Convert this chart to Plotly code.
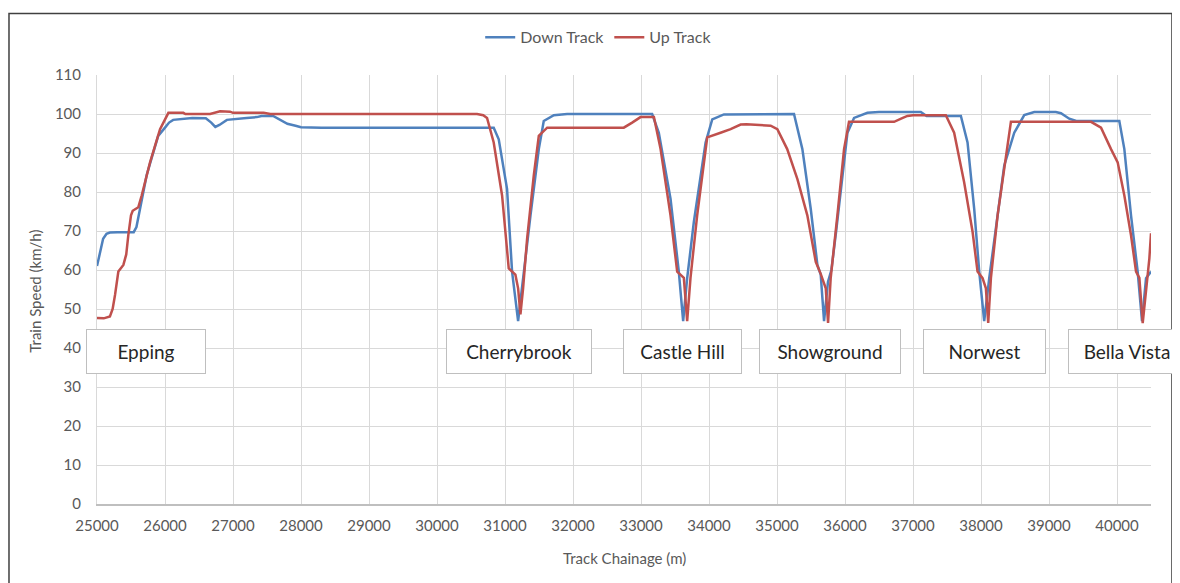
import plotly.graph_objects as go

# ---- data ----
down_x = [25000, 25030, 25060, 25090, 25140, 25190, 25300, 25540, 25580, 25630, 25680, 25730, 25800, 25900,
          26000, 26060, 26120, 26270, 26400, 26600, 26680, 26740, 26800, 26910, 27050, 27200, 27350, 27420,
          27590, 27700, 27800, 27920, 28000, 28300, 30834, 30908, 31030, 31104, 31153, 31193, 31227, 31276,
          31375, 31497, 31570, 31718, 31914, 33164, 33262, 33434, 33556, 33620, 33679, 33777, 33950, 34048,
          34219, 35250, 35373, 35496, 35594, 35643, 35692, 35750, 35800, 35870, 35937, 36036, 36133, 36330,
          36500, 37115, 37200, 37704, 37802, 37900, 37974, 38047, 38121, 38219, 38342, 38489, 38636, 38783,
          39100, 39176, 39298, 39400, 40034, 40108, 40206, 40304, 40368, 40427, 40500]
down_v = [61, 63.5, 66, 68, 69.3, 69.6, 69.7, 69.7, 71, 75.6, 80, 84.3, 88.5, 94.4,
          96.5, 97.8, 98.5, 98.8, 99, 98.9, 97.8, 96.7, 97.2, 98.5, 98.8, 99, 99.2, 99.5,
          99.5, 98.5, 97.5, 97, 96.6, 96.5, 96.5, 93.5, 80.8, 59.6, 52.8, 46.9, 52, 59.6,
          74, 91, 98.2, 99.7, 100, 100, 95.2, 78.3, 59.6, 46.9, 57.9, 72.3, 92.7, 98.6,
          99.9, 100, 91, 75.7, 61.3, 58.8, 46.9, 57, 60, 70, 80, 95.2, 99, 100.3,
          100.5, 100.5, 99.5, 99.5, 92.7, 75.7, 59.6, 46.9, 57.9, 70.6, 86.8, 95.2, 99.7, 100.5,
          100.5, 100.2, 98.8, 98.2, 98.2, 91, 74, 59.6, 46.9, 57.9, 59.6]

up_x = [25000, 25100, 25190, 25230, 25265, 25314, 25388, 25430, 25461, 25500, 25525, 25608, 25657, 25780,
        25927, 26000, 26050, 26270, 26300, 26663, 26750, 26810, 26957, 27000, 27450, 27550, 30589, 30680,
        30736, 30834, 30957, 31055, 31153, 31193, 31227, 31266, 31325, 31423, 31497, 31620, 32747, 32800,
        32870, 32993, 33190, 33288, 33434, 33532, 33630, 33679, 33728, 33826, 33974, 34170, 34318, 34465,
        34550, 34907, 35005, 35150, 35300, 35446, 35570, 35643, 35717, 35751, 35790, 35888, 35986, 36059,
        36722, 36850, 36918, 37000, 37483, 37605, 37752, 37876, 37949, 38023, 38072, 38106, 38146, 38244,
        38391, 38440, 39618, 39765, 39912, 40010, 40108, 40206, 40280, 40329, 40378, 40427, 40476, 40500]
up_v = [47.7, 47.6, 48.1, 50, 53.6, 59.6, 61.3, 64, 69, 74, 75.2, 76.1, 79.1, 87.6,
        96.1, 98.5, 100.3, 100.3, 100, 100, 100.5, 100.7, 100.6, 100.3, 100.3, 100, 100, 99.7,
        99, 92.7, 79.1, 60.4, 58.8, 55.3, 48.6, 55.3, 68, 84.2, 94.4, 96.5, 96.5, 97,
        97.8, 99.2, 99.2, 91, 74, 59.6, 58, 46.9, 58, 74, 94, 95.2, 96.1, 97.3,
        97.4, 97, 96.1, 91, 83.3, 74, 62.1, 59, 55.3, 46.4, 58, 74, 91, 98,
        98, 99, 99.5, 99.7, 99.7, 95.2, 82.5, 69.8, 59.6, 57.9, 55.3, 46.4, 58, 74,
        92.7, 98, 98, 96.5, 91, 87.6, 79.1, 68.9, 59.6, 58, 46.4, 55.3, 63, 69.4]

station_names = ["Epping", "Cherrybrook", "Castle Hill", "Showground", "Norwest", "Bella Vista"]
station_chainage = [25720, 31210, 33605, 35775, 38045, 40150]
station_label_speed = [39.2, 39.2, 39.2, 39.2, 39.2, 39.2]

# ---- styles ----
station_box_w = [118, 144, 117, 140, 121, 116]
BLUE = "#4F81BD"
RED = "#C0504D"
GRID = "#D9D9D9"
TXT = "#595959"
FONT = "Lato"

fig = go.Figure()
fig.add_trace(go.Scatter(x=down_x, y=down_v, mode="lines", name="Down Track",
                         line=dict(color=BLUE, width=2.5)))
fig.add_trace(go.Scatter(x=up_x, y=up_v, mode="lines", name="Up Track",
                         line=dict(color=RED, width=2.5)))

for name, cx, cy, w in zip(station_names, station_chainage, station_label_speed, station_box_w):
    fig.add_annotation(x=cx, y=cy, xref="x", yref="y", text=name, showarrow=False,
                       xanchor="center", yanchor="middle", width=w, height=43,
                       bgcolor="white", bordercolor="#BFBFBF", borderwidth=1, borderpad=0,
                       font=dict(family=FONT, size=19, color="#262626"))

fig.add_annotation(x=-0.0588, y=0.495, xref="paper", yref="paper", text="Train Speed (km/h)",
                   textangle=-90, showarrow=False, xanchor="center", yanchor="middle",
                   font=dict(family=FONT, size=15, color=TXT))
fig.add_annotation(x=0.5, y=-0.125, xref="paper", yref="paper", text="Track Chainage (m)",
                   showarrow=False, xanchor="center", yanchor="middle",
                   font=dict(family=FONT, size=15, color=TXT))

# outer chart frame
fig.add_shape(type="rect", xref="paper", yref="paper", x0=-0.0835, x1=1.0199, y0=-0.25, y1=1.1435,
              line=dict(color="#404040", width=1.5), layer="below")

fig.update_layout(
    width=1180, height=583,
    margin=dict(l=89, r=37, t=64, b=87),
    paper_bgcolor="white", plot_bgcolor="white",
    font=dict(family=FONT, size=15, color=TXT),
    showlegend=True,
    legend=dict(orientation="h", x=0.476, y=1.088, xanchor="center", yanchor="middle",
                font=dict(family=FONT, size=16, color=TXT), bgcolor="rgba(0,0,0,0)"),
    xaxis=dict(range=[25000, 40500], dtick=1000, tick0=25000, tickformat="d",
               showgrid=True, gridcolor=GRID, gridwidth=1, zeroline=False,
               showline=True, linecolor="#BFBFBF", linewidth=1.5,
               ticks="", ticklabelstandoff=7, tickfont=dict(size=15, color=TXT)),
    yaxis=dict(range=[0, 110], dtick=10, tick0=0,
               showgrid=True, gridcolor=GRID, gridwidth=1, zeroline=False,
               showline=True, linecolor=GRID, linewidth=1,
               ticks="", ticklabelstandoff=12, tickfont=dict(size=15, color=TXT)),
)

fig.write_html("out.html")
